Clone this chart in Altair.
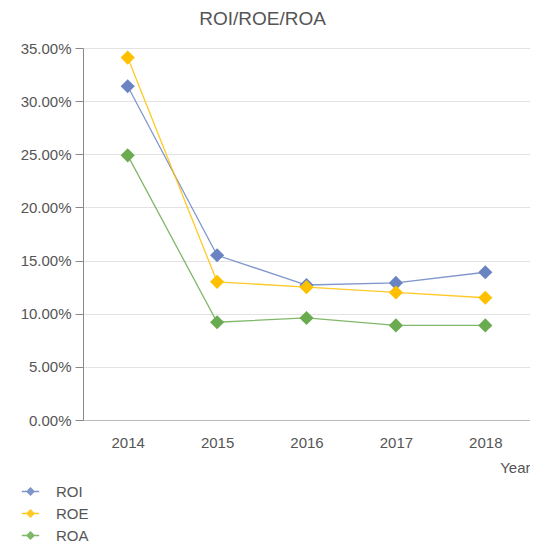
import altair as alt
import pandas as pd

years = ["2014", "2015", "2016", "2017", "2018"]
series = ["ROI", "ROE", "ROA"]
roi = [0.314, 0.155, 0.127, 0.129, 0.139]
roe = [0.341, 0.130, 0.125, 0.120, 0.115]
roa = [0.249, 0.092, 0.096, 0.089, 0.089]
colors = ["#6a84c3", "#ffc000", "#6aab4f"]

rows = []
for name, vals in zip(series, [roi, roe, roa]):
    for y, v in zip(years, vals):
        rows.append({"Year": y, "Series": name, "Value": v})
df = pd.DataFrame(rows)

font = "Liberation Sans"

x = alt.X("Year:N", sort=years,
          scale=alt.Scale(type="point", padding=0.5),
          axis=alt.Axis(title="Year", labelAngle=0, titleAnchor="end", titleAlign="right",
                        titleFontWeight="normal", titleFontSize=15, titleColor="#555",
                        titlePadding=10, labelFontSize=15, labelColor="#555", labelPadding=15,
                        ticks=False, domainColor="#bbbbbb", grid=False, labelFont=font, titleFont=font))
y = alt.Y("Value:Q", scale=alt.Scale(domain=[0, 0.35], nice=False),
          axis=alt.Axis(title=None, format=".2%", values=[0, 0.05, 0.1, 0.15, 0.2, 0.25, 0.3, 0.35],
                        labelFontSize=15, labelColor="#555", labelFont=font, tickSize=8,
                        tickColor="#888", domainColor="#888", gridColor="#e3e3e3", labelPadding=4))
color = alt.Color("Series:N", sort=series,
                  scale=alt.Scale(domain=series, range=colors),
                  legend=alt.Legend(title=None, orient="none", legendX=-62, legendY=434,
                                    symbolType="M-1,0L1,0M0,-0.4L0.4,0L0,0.4L-0.4,0Z",
                                    symbolSize=300, symbolStrokeWidth=1.5,
                                    labelFontSize=15, labelColor="#555", labelFont=font,
                                    rowPadding=4, labelOffset=16))

base = alt.Chart(df).encode(x=x, y=y, color=color)
lines = base.mark_line(strokeWidth=1.3, opacity=0.85)
pts = base.mark_point(shape="diamond", filled=True, size=200, opacity=1)

chart = (lines + pts).properties(
    width=447, height=372,
    title=alt.Title("ROI/ROE/ROA", fontSize=19, font=font, fontWeight="normal",
                    color="#555", anchor="middle", offset=12, dx=-44),
    padding={"left": 75, "top": 40, "right": 0, "bottom": 124},
    autosize=alt.AutoSizeParams(type="none"),
).configure_view(stroke=None)

chart.save("out.html", embed_options={"renderer": "svg", "actions": False})
